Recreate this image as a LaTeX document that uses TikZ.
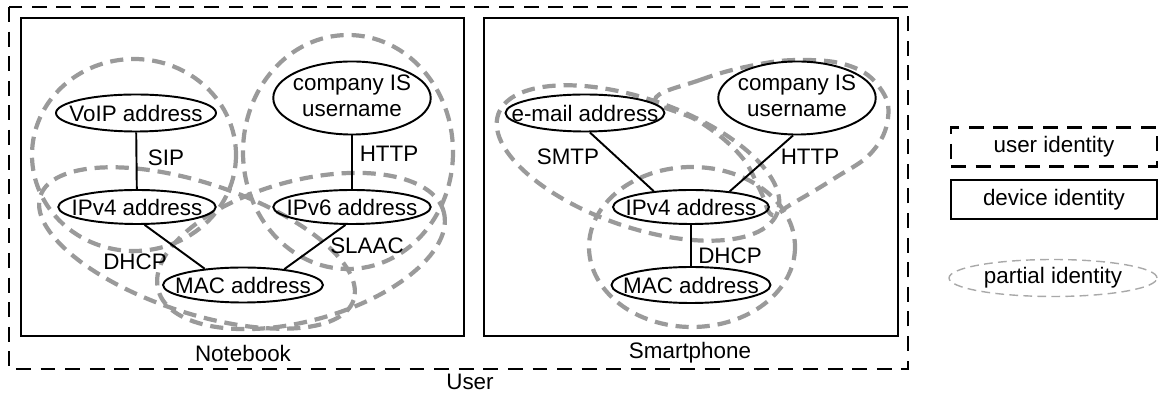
\documentclass[tikz,border=0pt]{standalone}
\usepackage{fontspec}
\setmainfont{Liberation Sans}
\usetikzlibrary{shapes.geometric}
\definecolor{partialgray}{HTML}{9A9A9A}
\newcommand{\idtext}[1]{\makebox[0pt]{#1}}

\begin{document}
\begin{tikzpicture}[
    x=0.02cm,y=-0.02cm,
    font=\fontsize{12.75}{14.7}\selectfont,
    ident/.style={ellipse,draw,line width=1.1pt,inner sep=0pt,
      minimum width=3.15cm,minimum height=0.7cm},
    twoline/.style={minimum height=1.38cm},
    link/.style={line width=1.1pt},
    proto/.style={inner sep=0pt},
    userframe/.style={draw,line width=1.2pt,dash pattern=on 8.5pt off 5.5pt},
    deviceframe/.style={draw,line width=1.1pt},
    partial/.style={draw=partialgray,line width=2.4pt,dash pattern=on 7.5pt off 4.5pt},
    legpartial/.style={ellipse,draw=partialgray!85,line width=.8pt,
      dash pattern=on 5pt off 3pt,inner sep=0pt,
      minimum width=4.16cm,minimum height=0.74cm}
  ]
    \useasboundingbox (0,0) rectangle (1160,394);

    % user and devices
    \draw[userframe] (9,7) rectangle (908,369);
    \draw[deviceframe] (21,18) rectangle (464,336);
    \draw[deviceframe] (484,18) rectangle (898,336);
    \node[proto] (notebook) at (243,353) {Notebook};
    \node[proto] (smartphone) at (690,353) {Smartphone};
    \node[proto] (user) at (470,382) {User};

    % partial identities, notebook
    \draw[partial] (134,155) ellipse [x radius=102, y radius=96];
    \draw[partial] (348,152) ellipse [x radius=105, y radius=117];
    \draw[partial,rotate around={-18.4:(197,248)}]
      (197,248) ellipse [x radius=165, y radius=65];
    \draw[partial,rotate around={15.4:(301,251)}]
      (301,251) ellipse [x radius=148, y radius=70];

    % partial identities, smartphone
    \draw[partial,rotate around={-19.3:(638,163)}]
      (638,163) ellipse [x radius=148, y radius=64];
    \draw[partial] plot[smooth cycle,tension=.7] coordinates {
      (655,100) (700,80) (750,66) (800,60) (850,66) (880,88) (888,118)
      (872,152) (835,178) (790,205) (772,215) (760,190) (740,155) (700,122)};
    \draw[partial] (692,247) ellipse [x radius=103, y radius=80];

    % notebook
    \node[ident,minimum width=3.2cm,minimum height=0.74cm] (voip) at (136,113)
      {\idtext{VoIP address}};
    \node[ident,twoline] (compnb) at (352,98)
      {\idtext{\begin{tabular}{@{}c@{}}company IS\\username\end{tabular}}};
    \node[ident,minimum height=0.68cm] (ipv4nb) at (137,207) {\idtext{IPv4 address}};
    \node[ident,minimum height=0.68cm] (ipv6nb) at (352,207) {\idtext{IPv6 address}};
    \node[ident,minimum width=3.2cm] (macnb) at (243,285) {\idtext{MAC address}};

    \draw[link] (voip) -- (ipv4nb);
    \draw[link] (compnb) -- (ipv6nb);
    \draw[link] (ipv4nb.-67) -- (macnb.157);
    \draw[link] (ipv6nb.-110) -- (macnb.21);
    \node[proto] (sip) at (166,158) {SIP};
    \node[proto] (httpnb) at (389,154) {HTTP};
    \node[proto] (dhcpnb) at (135,262) {DHCP};
    \node[proto] (slaac) at (367,246) {SLAAC};

    % smartphone
    \node[ident,minimum width=3.18cm,minimum height=0.74cm] (email) at (585,113)
      {\idtext{e-mail address}};
    \node[ident,twoline] (compsp) at (797,98)
      {\idtext{\begin{tabular}{@{}c@{}}company IS\\username\end{tabular}}};
    \node[ident,minimum width=3.12cm,minimum height=0.68cm] (ipv4sp) at (691,207)
      {\idtext{IPv4 address}};
    \node[ident,minimum width=3.18cm,minimum height=0.72cm] (macsp) at (691,285)
      {\idtext{MAC address}};

    \draw[link] (email.-76) -- (ipv4sp.157);
    \draw[link] (compsp.-96) -- (ipv4sp.22);
    \draw[link] (ipv4sp) -- (macsp);
    \node[proto] (smtp) at (568,157) {SMTP};
    \node[proto] (httpsp) at (810,157) {HTTP};
    \node[proto] (dhcpsp) at (730,256) {DHCP};

    % legend
    \node[userframe,minimum width=4.12cm,minimum height=0.78cm] (leguser)
      at (1054,147) {user identity};
    \node[deviceframe,minimum width=4.12cm,minimum height=0.78cm] (legdevice)
      at (1054,199.5) {device identity};
    \node[legpartial] (legpart) at (1053,278) {\idtext{partial identity}};
\end{tikzpicture}
\end{document}
